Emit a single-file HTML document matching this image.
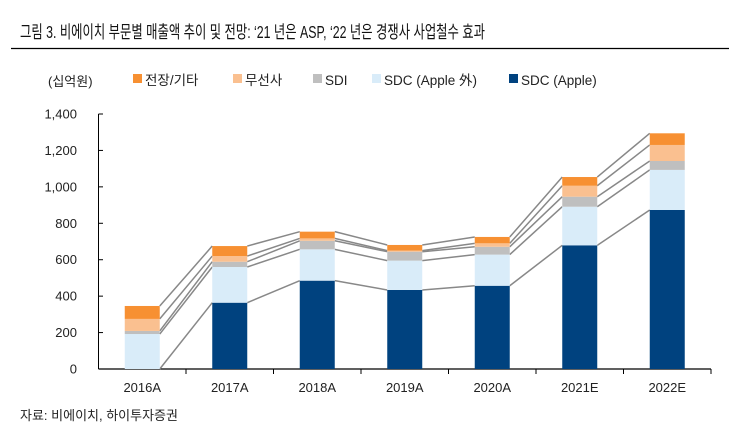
<!DOCTYPE html>
<html><head><meta charset="utf-8"><style>
body{margin:0;background:#fff;font-family:"Liberation Sans","Noto Sans CJK KR",sans-serif;}
svg text{font-family:"Liberation Sans","Noto Sans CJK KR",sans-serif;}
</style></head><body>
<svg id="c" width="729" height="439" xmlns="http://www.w3.org/2000/svg">
<text x="20" y="38" font-size="17.5" fill="#111" textLength="465" lengthAdjust="spacingAndGlyphs">그림 3. 비에이치 부문별 매출액 추이 및 전망: ‘21 년은 ASP, ‘22 년은 경쟁사 사업철수 효과</text>
<line x1="11" y1="48.5" x2="729" y2="48.5" stroke="#000" stroke-width="1.2"/>
<text x="48" y="86" font-size="13" fill="#222">(십억원)</text>
<g id="legend"></g>
<g id="axes"></g>
<g id="lines"></g>
<g id="bars"></g>
<text x="20" y="420" font-size="13" fill="#222">자료: 비에이치, 하이투자증권</text>
</svg>
<script>
const categories=["2016A","2017A","2018A","2019A","2020A","2021E","2022E"];
const sdcApple=[0,364,485,434,457,679,873];
const sdcOther=[192,196,172,161,171,212,220];
const sdi=[17,29,47,49,43,55,49];
const wireless=[66,31,13,6,19,60,88];
const auto=[71,55,37,31,35,48,64];
const yTicks=[0,200,400,600,800,1000,1200,1400];
const seriesNames=["SDC (Apple)","SDC (Apple 外)","SDI","무선사","전장/기타"];
const colors=["#00427f","#d9ecf9","#bfbfbf","#fac090","#f79032"];
const NS="http://www.w3.org/2000/svg";
const svg=document.getElementById('c');
const x0=98.5,cw=87.5,bw=35,yBase=369,yTop=114,yMax=1400;
const y=v=>yBase-(v/yMax)*(yBase-yTop);
const xc=i=>x0+cw*(i+0.5);
function mk(tag,attrs,parent){const e=document.createElementNS(NS,tag);for(const k in attrs)e.setAttribute(k,attrs[k]);parent.appendChild(e);return e;}
const axes=document.getElementById('axes');
const yAxis=mk('line',{x1:98.5,y1:yTop,x2:98.5,y2:yBase,stroke:'#000'},axes);


yTicks.forEach(t=>{
  const tk=mk('line',{x1:98.5,y1:y(t),x2:103,y2:y(t),stroke:'#000'},axes);
  
  
  const tx=mk('text',{x:77,y:y(t)+4.5,'font-size':13,'text-anchor':'end',fill:'#222'},axes);
  tx.textContent=t.toLocaleString('en-US');
  
  
});
const xAxis=mk('line',{x1:98.5,y1:yBase,x2:711,y2:yBase,stroke:'#000','stroke-width':1.2},axes);


categories.forEach((c,i)=>{
  const tk=mk('line',{x1:x0+cw*(i+1),y1:yBase,x2:x0+cw*(i+1),y2:yBase+5,stroke:'#000'},axes);
  
  
  const tx=mk('text',{x:xc(i),y:392,'font-size':13,'text-anchor':'middle',fill:'#222'},axes);
  tx.textContent=c;
  
  
});
const series=[sdcApple,sdcOther,sdi,wireless,auto];
const cum=categories.map((c,i)=>{let s=0;return series.map(a=>{s+=a[i];return s;});});
const lines=document.getElementById('lines');
for(let i=0;i<categories.length-1;i++){
  for(let k=0;k<series.length;k++){
    const l=mk('line',{x1:xc(i)+bw/2,y1:y(cum[i][k]),x2:xc(i+1)-bw/2,y2:y(cum[i+1][k]),stroke:'#888','stroke-width':1.5},lines);
    
    
  }
}
const bars=document.getElementById('bars');
categories.forEach((c,i)=>{
  let base=0;
  series.forEach((a,k)=>{
    const top=base+a[i];
    const r=mk('rect',{x:xc(i)-bw/2,y:y(top),width:bw,height:y(base)-y(top),fill:colors[k]},bars);
    
    
    base=top;
  });
});
const legend=document.getElementById('legend');
const legItems=[[4,133],[3,233],[2,313],[1,372],[0,509]];
legItems.forEach(([k,lx])=>{
  const r=mk('rect',{x:lx,y:74,width:9,height:9,fill:colors[k]},legend);
  
  
  const t=mk('text',{x:lx+12,y:85,'font-size':13.5,fill:'#222'},legend);
  t.textContent=seriesNames[k];
  
  
});
</script>
</body></html>
